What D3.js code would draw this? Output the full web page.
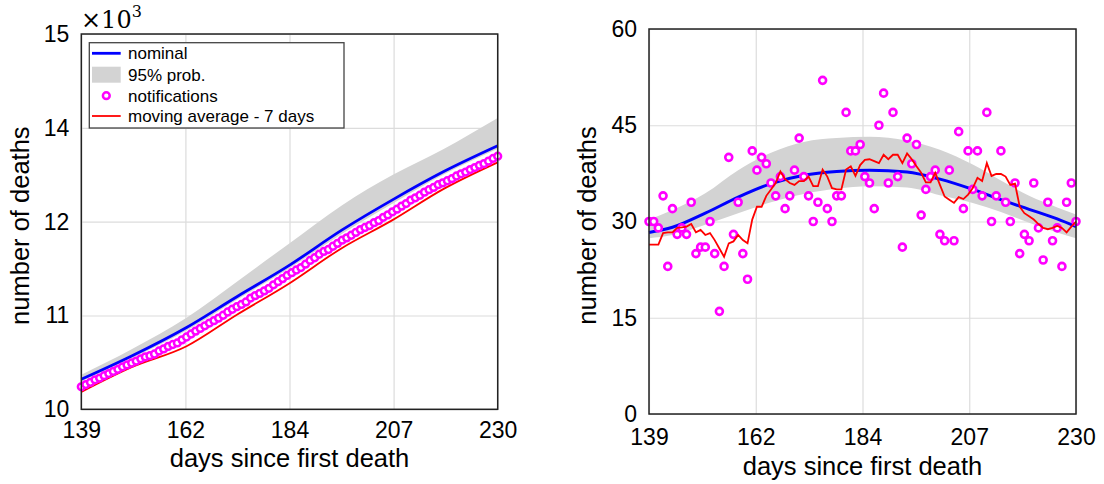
<!DOCTYPE html>
<html>
<head>
<meta charset="utf-8">
<script src="https://cdn.jsdelivr.net/npm/d3@7"></script>
<style>
  body { margin: 0; background: #fff; }
  svg { display: block; }
  text { font-family: 'Liberation Sans', Arial, Helvetica, sans-serif; fill: #000; }
  text.serif { font-family: 'DejaVu Serif', 'Liberation Serif', serif; }
</style>
</head>
<body>
<svg id="chart"></svg>
<script>
// days since first death (x categories)
const days = d3.range(139, 231);

// daily notified deaths
const notifications = [
  30, 30, 29, 34, 23, 32, 28, 29, 28, 33,
  25, 26, 26, 30, 25, 16, 23, 40, 28, 33,
  25, 21, 41, 38, 40, 39, 36, 34, 37, 32,
  34, 38, 43, 37, 34, 30, 33, 52, 32, 30,
  34, 34, 47, 41, 41, 42, 37, 36, 32, 45,
  50, 36, 47, 37, 26, 43, 39, 42, 31, 35,
  37, 38, 28, 27, 38, 27, 44, 32, 41, 35,
  41, 34, 47, 30, 34, 41, 33, 30, 36, 25,
  28, 27, 36, 29, 24, 33, 27, 29, 23, 33,
  36, 30
];

// 7-day moving average (red line, right panel)
const movingAverage = [
  26.4, 26.4, 26.4, 28.2, 28.3, 28.3, 29.0, 29.1, 29.2, 29.6,
  28.3, 28.7, 27.9, 28.2, 27.1, 25.8, 24.5, 26.6, 26.9, 27.9,
  27.1, 26.6, 30.3, 32.3, 32.3, 34.0, 35.0, 36.0, 37.8, 36.6,
  36.0, 35.7, 36.3, 36.3, 37.0, 35.5, 35.5, 38.1, 37.0, 35.2,
  35.0, 35.0, 38.1, 38.6, 37.1, 38.8, 39.6, 39.7, 39.4, 39.1,
  40.4, 39.7, 40.4, 40.4, 39.1, 40.6, 39.7, 38.6, 37.6, 36.1,
  36.1, 37.6, 35.7, 33.9, 33.4, 32.9, 33.8, 33.5, 34.2, 35.2,
  36.8, 36.3, 39.1, 37.1, 37.4, 37.4, 37.0, 35.7, 35.9, 32.3,
  31.3, 30.8, 30.3, 29.6, 29.0, 28.8, 29.0, 29.3, 29.0, 28.3,
  29.2, 30.0
];

// right panel: nominal model and 95% band
const dailyModelDays = [139, 144, 151, 158, 165, 172, 179, 186, 194, 201, 208, 214, 220, 226, 230];
const dailyNominal   = [28.3, 29.1, 31.3, 33.8, 35.9, 37.2, 37.8, 38.0, 37.7, 36.6, 35.0, 33.4, 31.9, 30.4, 29.2];
const dailyUpper     = [30.3, 31.8, 34.4, 38.0, 40.7, 42.4, 43.0, 43.2, 42.6, 41.2, 38.9, 36.4, 34.0, 32.2, 31.1];
const dailyLower     = [27.4, 27.9, 29.5, 31.3, 33.0, 34.3, 35.1, 35.5, 35.3, 34.1, 32.9, 31.5, 29.8, 28.3, 27.4];

// left panel: cumulative deaths (x10^3)
const cumStart = 10300; // notified deaths up to day 139
const cumModelDays = [139, 150, 162, 173, 184, 196, 207, 218, 230];
const cumNominal   = [10.40, 10.71, 11.09, 11.50, 11.90, 12.39, 12.79, 13.16, 13.51];
const cumUpper     = [10.46, 10.80, 11.22, 11.70, 12.19, 12.72, 13.12, 13.46, 13.88];
const cumLower     = [10.37, 10.68, 11.05, 11.46, 11.86, 12.34, 12.74, 13.12, 13.47];
const cumMovingAvg = [10.23, 10.56, 10.84, 11.26, 11.66, 12.15, 12.52, 12.93, 13.29];

// axis ticks
const xTicks = [139, 161.75, 184.5, 207.25, 230];
const xTickLabels = ['139', '162', '184', '207', '230'];
const cumTicks = [10, 11.25, 12.5, 13.75, 15];
const cumTickLabels = ['10', '11', '12', '14', '15'];
const dailyTicks = [0, 15, 30, 45, 60];
const dailyTickLabels = ['0', '15', '30', '45', '60'];

const legendLabels = ['nominal', '95% prob.', 'notifications', 'moving average - 7 days'];

const width = 1104, height = 484;
const blue = '#0000ff', red = '#ff0000', magenta = '#ff00ff', bandGrey = '#d3d3d3';

const svg = d3.select('#chart')
  .attr('width', width)
  .attr('height', height);

svg.append('rect').attr('width', width).attr('height', height).attr('fill', '#fff');

const cumNotified = Array.from(d3.cumsum(notifications), v => (v - notifications[0] + cumStart) / 1000);

const drawPanel = (box, yDomain, yTicks, yLabels, yTitleX, xPad) => {
  const g = svg.append('g').attr('transform', `translate(${box.x0}, ${box.y0})`);
  const innerW = box.x1 - box.x0;
  const innerH = box.y1 - box.y0;

  const x = d3.scaleLinear().domain([139, 230]).range([0, innerW]);
  const y = d3.scaleLinear().domain(yDomain).range([innerH, 0]);

  // grid
  g.append('g')
    .attr('transform', `translate(0, ${innerH})`)
    .call(d3.axisBottom(x).tickValues(xTicks).tickSize(-innerH).tickFormat(''))
    .call(s => s.select('.domain').remove())
    .selectAll('line').attr('stroke', '#dcdcdc').attr('stroke-width', 1.2);

  g.append('g')
    .call(d3.axisLeft(y).tickValues(yTicks).tickSize(-innerW).tickFormat(''))
    .call(s => s.select('.domain').remove())
    .selectAll('line').attr('stroke', '#dcdcdc').attr('stroke-width', 1.2);

  // tick labels
  g.append('g')
    .attr('transform', `translate(0, ${innerH})`)
    .call(d3.axisBottom(x).tickValues(xTicks).tickSize(0).tickPadding(xPad)
      .tickFormat((_, i) => xTickLabels[i]))
    .call(s => s.select('.domain').remove())
    .selectAll('text').attr('font-size', 23).attr('font-family', null);

  g.append('g')
    .call(d3.axisLeft(y).tickValues(yTicks).tickSize(0).tickPadding(12)
      .tickFormat((_, i) => yLabels[i]))
    .call(s => s.select('.domain').remove())
    .selectAll('text').attr('font-size', 23).attr('font-family', null);

  // axis titles
  g.append('text')
    .attr('x', innerW / 2)
    .attr('y', innerH + 46 + xPad)
    .attr('text-anchor', 'middle')
    .attr('font-size', 25.5)
    .text('days since first death');

  g.append('text')
    .attr('transform', `translate(${yTitleX - box.x0}, ${innerH / 2 + 4}) rotate(-90)`)
    .attr('text-anchor', 'middle')
    .attr('font-size', 25.5)
    .text('number of deaths');

  const plot = g.append('g');
  return {g, plot, x, y, innerW, innerH};
};

const frame = (p) => {
  p.g.append('rect')
    .attr('width', p.innerW)
    .attr('height', p.innerH)
    .attr('fill', 'none')
    .attr('stroke', '#222')
    .attr('stroke-width', 1.5);
};

// ---------- left panel ----------
const left = drawPanel({x0: 81.3, x1: 497.7, y0: 34, y1: 409.3}, [10, 15], cumTicks, cumTickLabels, 29, 12);
{
  const {plot, x, y} = left;
  plot.append('path')
    .datum(cumModelDays.map((d, i) => [d, cumLower[i], cumUpper[i]]))
    .attr('fill', bandGrey)
    .attr('d', d3.area().x(d => x(d[0])).y0(d => y(d[1])).y1(d => y(d[2])).curve(d3.curveMonotoneX));

  plot.append('path')
    .datum(cumModelDays.map((d, i) => [d, cumNominal[i]]))
    .attr('fill', 'none').attr('stroke', blue).attr('stroke-width', 2.8)
    .attr('d', d3.line().x(d => x(d[0])).y(d => y(d[1])).curve(d3.curveMonotoneX));

  plot.append('path')
    .datum(cumModelDays.map((d, i) => [d, cumMovingAvg[i]]))
    .attr('fill', 'none').attr('stroke', red).attr('stroke-width', 1.8)
    .attr('d', d3.line().x(d => x(d[0])).y(d => y(d[1])).curve(d3.curveMonotoneX));

  plot.selectAll('circle')
    .data(days)
    .join('circle')
      .attr('cx', d => x(d))
      .attr('cy', (_, i) => y(cumNotified[i]))
      .attr('r', 3.4)
      .attr('fill', '#fff')
      .attr('stroke', magenta)
      .attr('stroke-width', 2.5);
}
frame(left);

// legend
{
  const lg = svg.append('g');
  lg.append('rect')
    .attr('x', 89.3).attr('y', 42.7)
    .attr('width', 254.7).attr('height', 85.3)
    .attr('fill', '#fff').attr('stroke', '#444').attr('stroke-width', 1.3);
  const rows = [53.3, 74.7, 95.7, 116];
  lg.append('line').attr('x1', 92).attr('x2', 120.7).attr('y1', rows[0]).attr('y2', rows[0])
    .attr('stroke', blue).attr('stroke-width', 2.8);
  lg.append('rect').attr('x', 92).attr('y', rows[1] - 8).attr('width', 28.7).attr('height', 16)
    .attr('fill', bandGrey);
  lg.append('circle').attr('cx', 106.3).attr('cy', rows[2]).attr('r', 3.4)
    .attr('fill', '#fff').attr('stroke', magenta).attr('stroke-width', 2.5);
  lg.append('line').attr('x1', 92).attr('x2', 120.7).attr('y1', rows[3]).attr('y2', rows[3])
    .attr('stroke', red).attr('stroke-width', 1.8);
  lg.selectAll('text.lab')
    .data(legendLabels)
    .join('text')
      .attr('class', 'lab')
      .attr('x', 128)
      .attr('y', (_, i) => rows[i] + 6)
      .attr('font-size', 17)
      .text(d => d);
}

// x10^3 multiplier
{
  const t = svg.append('text')
    .attr('class', 'serif')
    .attr('x', 81)
    .attr('y', 28)
    .attr('font-size', 24);
  t.append('tspan').text('\u00d710');
  t.append('tspan').attr('dy', -11).attr('font-size', 16).text('3');
}

// ---------- right panel ----------
const right = drawPanel({x0: 649, x1: 1076, y0: 29, y1: 414}, [0, 60], dailyTicks, dailyTickLabels, 596, 15);
{
  const {plot, x, y} = right;
  plot.append('path')
    .datum(dailyModelDays.map((d, i) => [d, dailyLower[i], dailyUpper[i]]))
    .attr('fill', bandGrey)
    .attr('d', d3.area().x(d => x(d[0])).y0(d => y(d[1])).y1(d => y(d[2])).curve(d3.curveMonotoneX));

  plot.append('path')
    .datum(dailyModelDays.map((d, i) => [d, dailyNominal[i]]))
    .attr('fill', 'none').attr('stroke', blue).attr('stroke-width', 3)
    .attr('d', d3.line().x(d => x(d[0])).y(d => y(d[1])).curve(d3.curveMonotoneX));

  plot.selectAll('circle')
    .data(days)
    .join('circle')
      .attr('cx', d => x(d))
      .attr('cy', (_, i) => y(notifications[i]))
      .attr('r', 3.5)
      .attr('fill', '#fff')
      .attr('stroke', magenta)
      .attr('stroke-width', 2.6);

  plot.append('path')
    .datum(days.map((d, i) => [d, movingAverage[i]]))
    .attr('fill', 'none').attr('stroke', red).attr('stroke-width', 1.8)
    .attr('d', d3.line().x(d => x(d[0])).y(d => y(d[1])));
}
frame(right);
</script>
</body>
</html>
